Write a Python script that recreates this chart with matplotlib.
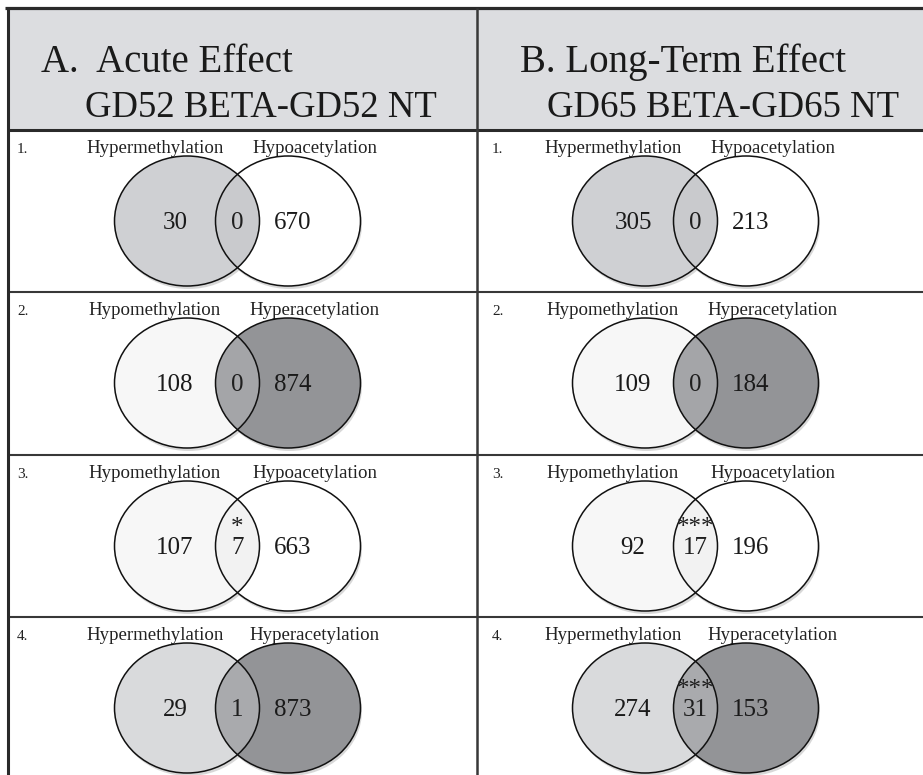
import matplotlib
matplotlib.use("Agg")
import matplotlib.pyplot as plt
from matplotlib.patches import Ellipse, Rectangle

# ---------------- data ----------------
headers_line1 = ["A.  Acute Effect", "B. Long-Term Effect"]
headers_line2 = ["GD52 BETA-GD52 NT", "GD65 BETA-GD65 NT"]
row_numbers = ["1.", "2.", "3.", "4."]
left_sets = ["Hypermethylation", "Hypomethylation", "Hypomethylation", "Hypermethylation"]
right_sets = ["Hypoacetylation", "Hyperacetylation", "Hypoacetylation", "Hyperacetylation"]

acute_left = [30, 108, 107, 29]
acute_overlap = [0, 0, 7, 1]
acute_right = [670, 874, 663, 873]
acute_sig = ["", "", "*", ""]

long_left = [305, 109, 92, 274]
long_overlap = [0, 0, 17, 31]
long_right = [213, 184, 196, 153]
long_sig = ["", "", "***", "***"]

# ---------------- style ----------------
W, H = 923, 775
SERIF = "Liberation Serif"
LINE = "#383838"
HEADER_BG = "#dcdde0"
left_fill = ["#cfd0d3", "#f7f7f7", "#f7f7f7", "#d9dadc"]
right_fill = ["#ffffff", "#939497", "#ffffff", "#939497"]
overlap_fill = ["#c9cacd", "#a4a5a8", "#f2f2f2", "#a9aaad"]
NUM_FS = 18
DESC = 0.216 * NUM_FS * 100 / 72  # descent in px, for bottom alignment

fig = plt.figure(figsize=(W / 100, H / 100), dpi=100)
ax = fig.add_axes([0, 0, 1, 1])
ax.set_xlim(0, W)
ax.set_ylim(H, 0)
ax.axis("off")

x_left, x_mid = 8, 477
y_top, y_head = 8, 130
row_tops = [130, 292, 455, 617]

# header
ax.add_patch(Rectangle((x_left, y_top), W - x_left, y_head - y_top,
                       facecolor=HEADER_BG, edgecolor="none", zorder=0))

panel_cfg = [
    dict(h1=41, h2=85, num_x=17, cl=187, cr=288,
         L=acute_left, O=acute_overlap, R=acute_right, S=acute_sig),
    dict(h1=520, h2=547, num_x=492, cl=645, cr=746,
         L=long_left, O=long_overlap, R=long_right, S=long_sig),
]

for p, cfg in enumerate(panel_cfg):
    ax.text(cfg["h1"], 72, headers_line1[p], fontsize=28, family=SERIF,
            color="#1a1a1a", va="baseline", ha="left")
    ax.text(cfg["h2"], 117, headers_line2[p], fontsize=26.5, family=SERIF,
            color="#1a1a1a", va="baseline", ha="left")
    for r in range(4):
        top = row_tops[r]
        cy = top + 91
        ew, eh = 145, 130
        cl, cr = cfg["cl"], cfg["cr"]
        ax.text(cfg["num_x"], top + 23, row_numbers[r], fontsize=11, family=SERIF,
                color="#222222", va="baseline", ha="left")
        ax.text(cl - 32, top + 23, left_sets[r], fontsize=13.6, family=SERIF,
                color="#222222", va="baseline", ha="center")
        ax.text(cr + 27, top + 23, right_sets[r], fontsize=13.6, family=SERIF,
                color="#222222", va="baseline", ha="center")
        # shadows
        for cx in (cl, cr):
            ax.add_patch(Ellipse((cx + 1.5, cy + 3), ew, eh, facecolor="#c8c8c8",
                                 edgecolor="none", alpha=0.7, zorder=1))
        e_l = Ellipse((cl, cy), ew, eh, facecolor=left_fill[r], edgecolor="none", zorder=2)
        e_r = Ellipse((cr, cy), ew, eh, facecolor=right_fill[r], edgecolor="none", zorder=2)
        ax.add_patch(e_l)
        ax.add_patch(e_r)
        e_o = Ellipse((cl, cy), ew, eh, facecolor=overlap_fill[r], edgecolor="none", zorder=3)
        ax.add_patch(e_o)
        e_o.set_clip_path(e_r)
        for cx in (cl, cr):
            ax.add_patch(Ellipse((cx, cy), ew, eh, facecolor="none",
                                 edgecolor="#111111", linewidth=1.1, zorder=4))
        mid = (cl + cr) / 2
        base = cy + 8
        ax.text(cl - 12, base + DESC, str(cfg["L"][r]), fontsize=NUM_FS, family=SERIF,
                color="#1a1a1a", ha="center", va="bottom", zorder=5)
        ov = str(cfg["O"][r])
        if cfg["S"][r]:
            ov = cfg["S"][r] + "\n" + ov
        ax.text(mid, base + DESC, ov, fontsize=NUM_FS, family=SERIF,
                color="#1f1f1f", ha="center", va="bottom", multialignment="center",
                linespacing=0.9, zorder=5)
        ax.text(cr + 5, base + DESC, str(cfg["R"][r]), fontsize=NUM_FS, family=SERIF,
                color="#1a1a1a", ha="center", va="bottom", zorder=5)

# table lines
ax.plot([5, W], [y_top, y_top], color="#2a2a2a", lw=2.3, solid_capstyle="butt", zorder=6)
ax.plot([x_left, W], [y_head, y_head], color="#2a2a2a", lw=2.2, solid_capstyle="butt", zorder=6)
for yt in row_tops[1:]:
    ax.plot([x_left, W], [yt, yt], color=LINE, lw=1.5, solid_capstyle="butt", zorder=6)
ax.plot([x_left, x_left], [y_top, H], color="#2a2a2a", lw=2.2, solid_capstyle="butt", zorder=6)
ax.plot([x_mid, x_mid], [y_top, H], color=LINE, lw=1.8, solid_capstyle="butt", zorder=6)

fig.savefig("out.png", dpi=100)
